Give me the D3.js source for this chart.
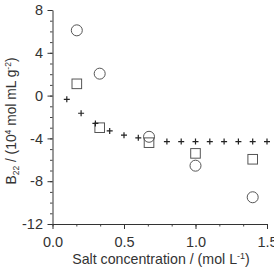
<!DOCTYPE html>
<html>
<head>
<meta charset="utf-8">
<script src="https://cdn.jsdelivr.net/npm/d3@7"></script>
<style>
  body { margin: 0; background: #fff; }
  text { font-family: "Liberation Sans", Arial, sans-serif; fill: #333; }
</style>
</head>
<body>
<div id="chart"></div>
<script>
// data
const circleX = [0.17, 0.33, 0.675, 1.0, 1.4];
const circleY = [6.1, 2.05, -3.85, -6.55, -9.5];
const squareX = [0.17, 0.33, 0.675, 1.0, 1.4];
const squareY = [1.1, -3.0, -4.4, -5.4, -5.95];
const plusX = [0.1, 0.2, 0.3, 0.4, 0.5, 0.6, 0.8, 0.9, 1.0, 1.1, 1.2, 1.3, 1.4, 1.5];
const plusY = [-0.35, -1.65, -2.6, -3.3, -3.7, -3.95, -4.3, -4.3, -4.3, -4.3, -4.3, -4.3, -4.3, -4.3];
const xTicks = [0, 0.5, 1.0, 1.5];
const yTicks = [8, 4, 0, -4, -8, -12];

// dimensions
const W = 274, H = 268;
const margin = {top: 10, right: 7, bottom: 44, left: 52.5};
const width = W - margin.left - margin.right,
height = H - margin.top - margin.bottom;

const svg = d3.select("#chart").append("svg")
  .attr("width", W)
  .attr("height", H);
const g = svg.append("g")
  .attr("transform", "translate(" + margin.left + "," + margin.top + ")");

const x = d3.scaleLinear().domain([0, 1.5]).range([0, 214.5]);
const y = d3.scaleLinear().domain([-12, 8]).range([height, 0]);

// minor ticks
const xMinor = d3.range(0, 1.5001, 0.5 / 3);
const yMinor = d3.range(-12, 8.001, 1);

g.append("g")
  .attr("transform", "translate(0," + height + ")")
  .call(d3.axisBottom(x).tickValues(xMinor).tickSize(2.5).tickFormat(""))
  .call(a => a.select(".domain").remove())
  .selectAll("line").attr("stroke", "#444");
g.append("g")
  .call(d3.axisLeft(y).tickValues(yMinor).tickSize(2.5).tickFormat(""))
  .call(a => a.select(".domain").remove())
  .selectAll("line").attr("stroke", "#444");

// major axes
const xAx = g.append("g")
  .attr("transform", "translate(0," + height + ")")
  .call(d3.axisBottom(x).tickValues(xTicks).tickSize(5).tickSizeOuter(0).tickFormat(d => d.toFixed(1)));
const yAx = g.append("g")
  .call(d3.axisLeft(y).tickValues(yTicks).tickSize(5).tickSizeOuter(0).tickFormat(d => String(d)));
[xAx, yAx].forEach(a => {
  a.select(".domain").attr("stroke", "#333");
  a.selectAll(".tick line").attr("stroke", "#333");
  a.selectAll("text").style("font-size", "14.5px").attr("fill", "#333")
    .style("font-family", "'Liberation Sans', Arial, sans-serif");
});
xAx.selectAll("text").attr("dy", "1.0em");
yAx.selectAll("text").attr("x", -9.5);

// markers
const mk = "#555";
g.selectAll(".circ").data(circleX).enter().append("circle")
  .attr("cx", d => x(d))
  .attr("cy", (d, i) => y(circleY[i]))
  .attr("r", 5.5)
  .attr("fill", "none").attr("stroke", mk).attr("stroke-width", 1);

g.selectAll(".sq").data(squareX).enter().append("rect")
  .attr("x", d => x(d) - 4.8)
  .attr("y", (d, i) => y(squareY[i]) - 4.8)
  .attr("width", 9.6).attr("height", 9.6)
  .attr("fill", "none").attr("stroke", mk).attr("stroke-width", 1);

g.selectAll(".plus").data(plusX).enter().append("path")
  .attr("d", (d, i) => {
    const px = x(d), py = y(plusY[i]), s = 3;
    return "M" + (px - s) + "," + py + "H" + (px + s) + "M" + px + "," + (py - s) + "V" + (py + s);
  })
  .attr("stroke", "#222").attr("stroke-width", 1.2);

// axis titles
const xt = svg.append("text")
  .attr("x", 161)
  .attr("y", 264)
  .attr("text-anchor", "middle")
  .style("font-size", "14.2px");
xt.append("tspan").text("Salt concentration / (mol L");
xt.append("tspan").attr("dy", -5).style("font-size", "9px").text("-1");
xt.append("tspan").attr("dy", 5).text(")");

const yt = svg.append("text")
  .attr("transform", "translate(16,121) rotate(-90)")
  .attr("text-anchor", "middle")
  .style("font-size", "13.8px");
yt.append("tspan").text("B");
yt.append("tspan").attr("dy", 3).style("font-size", "8.5px").text("22");
yt.append("tspan").attr("dy", -3).text(" / (10");
yt.append("tspan").attr("dy", -5).style("font-size", "8.5px").text("4");
yt.append("tspan").attr("dy", 5).text(" mol mL g");
yt.append("tspan").attr("dy", -5).style("font-size", "8.5px").text("-2");
yt.append("tspan").attr("dy", 5).text(")");
</script>
</body>
</html>
